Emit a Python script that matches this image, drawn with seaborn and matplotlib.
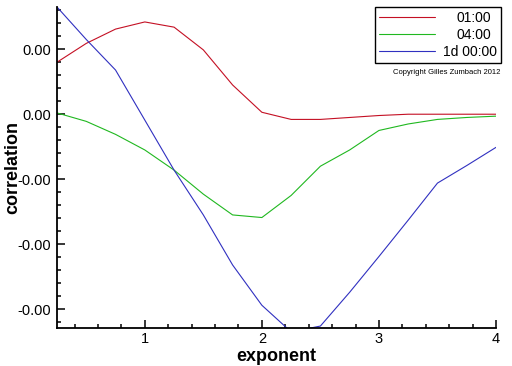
import matplotlib
matplotlib.use("Agg")
import matplotlib.pyplot as plt
import matplotlib.ticker as mticker
import pandas as pd
import seaborn as sns

# values
exponent = [0.25, 0.5, 0.75, 1.0, 1.25, 1.5, 1.75, 2.0,
            2.25, 2.5, 2.75, 3.0, 3.25, 3.5, 3.75, 4.0]
corr_1h = [0.00080, 0.00109, 0.00131, 0.00142, 0.00134, 0.00099, 0.00045, 0.00003,
           -0.00008, -0.00008, -0.00005, -0.00002, 0.0, 0.0, 0.0, 0.0]
corr_4h = [0.00002, -0.00011, -0.00031, -0.00055, -0.00086, -0.00123, -0.00155, -0.00159,
           -0.00125, -0.00080, -0.00055, -0.00025, -0.00015, -0.00008, -0.00005, -0.00003]
corr_1d = [0.00165, 0.00115, 0.00068, -0.00009, -0.00086, -0.00155, -0.00232, -0.00294,
           -0.00335, -0.00326, -0.00274, -0.00219, -0.00163, -0.00106, -0.00079, -0.00051]
labels = ["01:00", "04:00", "1d 00:00"]
colors = ["#c41024", "#20b820", "#3030c0"]

df = pd.concat([
    pd.DataFrame({"exponent": exponent, "correlation": c, "lag": lab})
    for c, lab in zip([corr_1h, corr_4h, corr_1d], labels)
])

sns.set_style("ticks")
plt.rcParams["font.family"] = ["Liberation Sans", "DejaVu Sans"]
plt.rcParams["text.color"] = "black"
plt.rcParams["axes.labelcolor"] = "black"

fig = plt.figure(figsize=(5.12, 3.66), dpi=100)
ax = fig.add_axes([57/512, 1 - 328/366, (496-57)/512, (328-7)/366])

sns.lineplot(data=df, x="exponent", y="correlation", hue="lag",
             palette=colors, linewidth=0.8, sort=False, ax=ax)

ax.set_xlim(0.25, 4.0)
ax.set_ylim(-0.00329, 0.00165)
ax.xaxis.set_major_locator(mticker.FixedLocator([1, 2, 3, 4]))
ax.xaxis.set_minor_locator(mticker.MultipleLocator(0.2))
ax.yaxis.set_major_locator(mticker.FixedLocator([0.001, 0.0, -0.001, -0.002, -0.003]))
ax.yaxis.set_minor_locator(mticker.MultipleLocator(0.0002))
ax.yaxis.set_major_formatter(mticker.FuncFormatter(
    lambda v, p: "%.2f" % v if v >= 0 else "-%.2f" % abs(v)))
ax.xaxis.set_major_formatter(mticker.FormatStrFormatter("%d"))

ax.tick_params(which="both", direction="in", colors="black", labelsize=10.5)
ax.tick_params(which="major", length=6, width=1.1)
ax.tick_params(which="minor", length=3, width=1.1)
ax.tick_params(axis="y", pad=4)
ax.tick_params(axis="x", pad=3)
for s in ["top", "right"]:
    ax.spines[s].set_visible(False)
for s in ["left", "bottom"]:
    ax.spines[s].set_linewidth(1.3)
    ax.spines[s].set_color("black")

ax.set_xlabel("exponent", fontsize=13, fontweight="bold", labelpad=1)
ax.set_ylabel("correlation", fontsize=13, fontweight="bold")
ax.yaxis.set_label_coords((21 - 57) / 439, 0.5)

handles, _ = ax.get_legend_handles_labels()
leg = ax.legend(handles, labels, loc="upper right",
                bbox_to_anchor=(501/512, 1 - 7/366), bbox_transform=fig.transFigure,
                fontsize=10, handlelength=4.0, handletextpad=0.6,
                labelspacing=0.2, borderpad=0.3, borderaxespad=0,
                fancybox=False, framealpha=1, edgecolor="black")
leg.get_frame().set_linewidth(1.0)

# right-align legend text
fig.canvas.draw()
renderer = fig.canvas.get_renderer()
widths = [t.get_window_extent(renderer).width for t in leg.get_texts()]
wmax = max(widths)
for t, w in zip(leg.get_texts(), widths):
    t.set_position(((wmax - w) * 72 / fig.dpi, 0))

fig.text(500/512, 1 - 72/366, "Copyright Gilles Zumbach 2012",
         ha="right", va="center", fontsize=5.5)

fig.savefig("out.png", dpi=100)
